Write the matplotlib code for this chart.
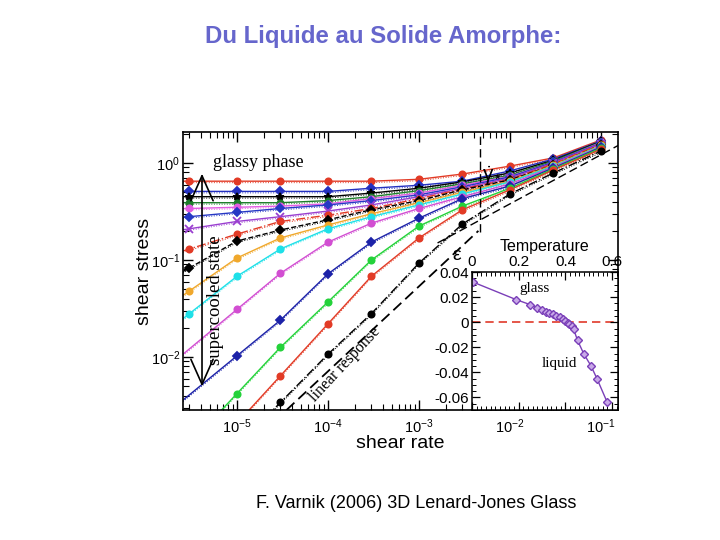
import numpy as np
import matplotlib
matplotlib.use('Agg')
import matplotlib.pyplot as plt
from matplotlib.ticker import LogLocator, MultipleLocator, NullFormatter, FuncFormatter

plt.rcParams['font.family'] = ['Liberation Sans', 'DejaVu Sans']
plt.rcParams['mathtext.default'] = 'regular'
plt.rcParams['mathtext.fontset'] = 'stix'

# ---------------- data ----------------
rates = [3e-6, 1e-5, 3e-5, 1e-4, 3e-4, 1e-3, 3e-3, 1e-2, 3e-2, 1e-1]

s01 = [0.65, 0.65, 0.65, 0.65, 0.65, 0.68, 0.77, 0.93, 1.13, 1.73]
s02 = [0.51, 0.51, 0.51, 0.51, 0.55, 0.59, 0.65, 0.83, 1.10, 1.69]
s03 = [0.45, 0.45, 0.45, 0.45, 0.49, 0.55, 0.64, 0.79, 1.07, 1.67]
s04 = [0.39, 0.39, 0.39, 0.41, 0.45, 0.52, 0.61, 0.75, 1.05, 1.65]
s05 = [0.34, 0.35, 0.36, 0.38, 0.43, 0.49, 0.59, 0.73, 1.02, 1.63]
s06 = [0.28, 0.31, 0.34, 0.37, 0.41, 0.47, 0.57, 0.72, 1.02, 1.61]
s07 = [0.21, 0.25, 0.28, 0.32, 0.37, 0.45, 0.55, 0.70, 1.00, 1.59]
s08 = [0.13, 0.185, 0.25, 0.29, 0.34, 0.43, 0.54, 0.68, 0.98, 1.57]
s09 = [0.083, 0.157, 0.204, 0.26, 0.33, 0.41, 0.53, 0.67, 0.95, 1.53]
s10 = [0.048, 0.105, 0.169, 0.23, 0.30, 0.39, 0.50, 0.65, 0.95, 1.52]
s11 = [0.028, 0.068, 0.13, 0.21, 0.28, 0.37, 0.48, 0.64, 0.93, 1.50]
s12 = [None, 0.031, 0.073, 0.153, 0.24, 0.34, 0.45, 0.61, 0.91, 1.48]
s13 = [None, 0.0103, 0.024, 0.072, 0.153, 0.27, 0.43, 0.58, 0.89, 1.46]
s14 = [None, 0.0042, 0.0126, 0.037, 0.10, 0.224, 0.36, 0.55, 0.87, 1.43]
s15 = [None, None, 0.0064, 0.022, 0.068, 0.169, 0.33, 0.53, 0.85, 1.39]
s16 = [None, None, 0.0034, 0.0107, 0.028, 0.093, 0.235, 0.48, 0.79, 1.33]

curves = [s01, s02, s03, s04, s05, s06, s07, s08, s09, s10, s11, s12, s13, s14, s15, s16]

# linear response (slope 1) and high-rate envelope (slope 1/2)
lin_rates = [3.5e-5, 4.5e-3]
lin_stress = [0.00284, 0.20]
env_rates = [1.6e-3, 0.155]
env_stress = [0.15, 1.52]

gamma_star = 4.7e-3
gamma_star_top = 0.195

# inset: asymmetry parameter epsilon vs temperature
temp = [0.005, 0.19, 0.25, 0.28, 0.30, 0.315, 0.33, 0.345, 0.36, 0.375, 0.39, 0.40,
        0.41, 0.417, 0.43, 0.435, 0.452, 0.478, 0.509, 0.535, 0.578]
eps = [0.032, 0.018, 0.014, 0.0113, 0.0097, 0.0085, 0.0073, 0.0062, 0.005, 0.0038,
       0.0025, 0.0012, -0.0008, -0.0016, -0.0032, -0.0056, -0.0145, -0.025, -0.0347,
       -0.045, -0.0635]

# ---------------- styles ----------------
colors = ['#e23b26', '#2430c0', '#000000', '#1d7d2a', '#e25ce2', '#2638c4', '#9a3fd0',
          '#e23b26', '#000000', '#f0a82c', '#1ee0e8', '#d24ed2', '#1c22a8', '#24d23a',
          '#e23b26', '#000000']
markers = ['o', 'D', '*', 'o', 'o', 'D', 'x', 'o', 'D', 'o', 'o', 'o', 'D', 'o', 'o', 'o']
lstyles = ['-', '-', '-', '-', '-', '-', '-', '-.', '--', '-', '-', '-', '-', '-', '-', '-.']

fig = plt.figure(figsize=(7.2, 5.4), dpi=100)
fig.patch.set_facecolor('white')

ax = fig.add_axes([183/720, 1-410/540, 435/720, 278/540])
xmin, xmax = 10**-5.593, 10**-0.813
ymin, ymax = 10**-2.546, 10**0.32
ax.set_xscale('log')
ax.set_yscale('log')
ax.set_xlim(xmin, xmax)
ax.set_ylim(ymin, ymax)

for ys, c, m, ls in zip(curves, colors, markers, lstyles):
    xs = np.array([r for r, v in zip(rates, ys) if v is not None])
    vs = np.array([v for v in ys if v is not None])
    lx, lv = np.log10(xs), np.log10(vs)
    # extend the fit line to the left frame
    sl = (lv[1]-lv[0])/(lx[1]-lx[0])
    x0 = np.log10(xmin)
    ext_x = np.r_[x0, lx]
    ext_v = np.r_[lv[0] + sl*(x0-lx[0]), lv]
    ax.plot(10**ext_x, 10**ext_v, color=c, lw=1.0, ls=ls, zorder=2)
    ax.plot(10**ext_x, 10**(ext_v-0.015), color=c, lw=0.7, ls=':', zorder=2)
    ms = 4.5 if m in ('o',) else (3.8 if m == 'D' else 6)
    ax.plot(xs, vs, ls='none', marker=m, ms=ms, color=c, mec=c, mew=1.3, zorder=3)

ax.plot(lin_rates, lin_stress, color='black', ls=(0, (6, 3)), lw=1.3, zorder=2)
ax.plot(env_rates, env_stress, color='black', ls=(0, (6, 3)), lw=1.0, zorder=2)
ax.plot([gamma_star, gamma_star], [gamma_star_top, ymax], color='black',
        ls=(0, (6, 3)), lw=1.0, zorder=2)

ax.xaxis.set_major_locator(LogLocator(base=10, numticks=20))
ax.xaxis.set_minor_locator(LogLocator(base=10, subs=np.arange(2, 10), numticks=20))
ax.yaxis.set_major_locator(LogLocator(base=10, numticks=20))
ax.yaxis.set_minor_locator(LogLocator(base=10, subs=np.arange(2, 10), numticks=20))
ax.xaxis.set_minor_formatter(NullFormatter())
ax.yaxis.set_minor_formatter(NullFormatter())
ax.tick_params(which='both', direction='in', top=True, right=True, labelsize=10.5)
ax.tick_params(axis='y', pad=2)
ax.tick_params(axis='x', pad=5)
ax.tick_params(which='major', length=7, width=1)
ax.tick_params(which='minor', length=4, width=0.8)
for sp in ax.spines.values():
    sp.set_linewidth(1.2)

ax.set_xlabel('shear rate', fontsize=14)
ax.set_ylabel('shear stress', fontsize=14)
ax.xaxis.set_label_coords(0.499, -0.09)
ax.yaxis.set_label_coords(-0.068, 0.5)

serif = ['Liberation Serif', 'DejaVu Serif']
ax.text(0.069, 0.892, 'glassy phase', transform=ax.transAxes, family=serif,
        fontsize=13, ha='left', va='center')
ax.text(0.074, 0.396, 'supercooled state', transform=ax.transAxes, family=serif,
        fontsize=13.5, rotation=90, ha='center', va='center')
ax.text(0.372, 0.165, 'linear response', transform=ax.transAxes, family=serif,
        fontsize=11.5, rotation=47, ha='center', va='center')
ax.annotate('', xy=(0.0437, 0.86), xytext=(0.0437, 0.075), xycoords='axes fraction',
            arrowprops=dict(arrowstyle='<->,head_length=0.9,head_width=0.4',
                            lw=1.2, color='black', mutation_scale=20))
ax.text(0.688, 0.845, r'$\dot{\gamma}_*$', transform=ax.transAxes, fontsize=15,
        ha='left', va='center')

# ---------------- inset ----------------
ai = fig.add_axes([472/720, 1-410/540, 146/720, 138/540])
ai.set_facecolor('white')
ai.set_xlim(0, 0.625)
ai.set_ylim(-0.070, 0.0401)
ai.axhline(0, color='#e03a2a', ls=(0, (5, 3)), lw=1.2, zorder=1)
ai.plot(temp, eps, color='#7a3fb8', lw=1.0, marker='D', ms=4, mfc='#c8a8e8',
        mec='#7a3fb8', mew=1.0, zorder=2)
ai.xaxis.tick_top()
ai.xaxis.set_label_position('top')
ai.xaxis.set_major_locator(MultipleLocator(0.2))
ai.xaxis.set_minor_locator(MultipleLocator(0.02))
ai.yaxis.set_major_locator(MultipleLocator(0.02))
ai.yaxis.set_minor_locator(MultipleLocator(0.005))
fmt = FuncFormatter(lambda v, p: ('%g' % round(v, 4)).replace('\u2212', '-'))
ai.xaxis.set_major_formatter(fmt)
ai.yaxis.set_major_formatter(fmt)
ai.tick_params(which='both', direction='in', top=True, bottom=True, left=True,
               right=True, labeltop=True, labelbottom=False, labelsize=11, pad=2)
ai.tick_params(which='major', length=6, width=0.9)
ai.tick_params(which='minor', length=3, width=0.7)
ai.set_xlabel('Temperature', fontsize=11.5, labelpad=3)
for sp in ai.spines.values():
    sp.set_linewidth(1.1)
ai.text(-0.10, 1.12, r'$\varepsilon$', transform=ai.transAxes, fontsize=14,
        ha='center', va='center')
ai.text(0.43, 0.877, 'glass', transform=ai.transAxes, family=serif, fontsize=11,
        ha='center', va='center')
ai.text(0.60, 0.34, 'liquid', transform=ai.transAxes, family=serif, fontsize=11,
        ha='center', va='center')

# ---------------- slide texts ----------------
fig.text(383/720, 1-36/540, 'Du Liquide au Solide Amorphe:', fontsize=17.3,
         fontweight='bold', color='#6666cc', ha='center', va='center')
fig.text(416/720, 1-503/540, 'F. Varnik (2006) 3D Lenard-Jones Glass', fontsize=13,
         color='black', ha='center', va='center')

fig.savefig('out.png', dpi=100, facecolor='white')
